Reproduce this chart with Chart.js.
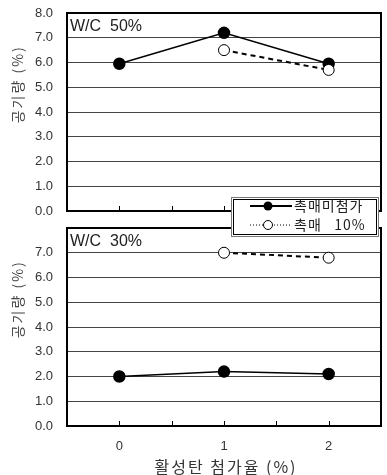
<!DOCTYPE html>
<html>
<head>
<meta charset="utf-8">
<script src="https://cdn.jsdelivr.net/npm/chart.js@4"></script>
<style>
  body { margin: 0; background: #fff; }
  #wrap { position: relative; width: 387px; height: 475px; }
  #topBox { position: absolute; left: 0; top: 0; width: 387px; height: 240px; z-index: 2; }
  #botBox { position: absolute; left: 0; top: 200px; width: 387px; height: 275px; z-index: 1; }
</style>
</head>
<body>
<div id="wrap">
  <div id="botBox"><canvas id="botChart"></canvas></div>
  <div id="topBox"><canvas id="topChart"></canvas></div>
</div>
<script>
// 활성탄 첨가율 (%)
const xValues = [0, 1, 2];
const xTickValues = [0, 0.5, 1, 1.5, 2];
const seriesNames = ['촉매미첨가', '촉매   10%'];
const panelLabels = ['W/C  50%', 'W/C  30%'];
const yTitle = '공기량 (%)';
const xTitle = '활성탄 첨가율 (%)';

// W/C 50%
const topNoCat = [5.95, 7.2, 5.95];
const topCat10 = [null, 6.5, 5.7];
// W/C 30%
const botNoCat = [2.0, 2.2, 2.1];
const botCat10 = [null, 7.0, 6.8];

const KR = '"Noto Sans CJK KR", "Liberation Sans", sans-serif';
const LAT = '"Liberation Sans", Arial, sans-serif';

function toPoints(arr) {
  return xValues.map((x, i) => ({ x: x, y: arr[i] })).filter(p => p.y !== null);
}

function noScalePadding(s) {
  s.paddingTop = 0; s.paddingBottom = 0; s.paddingLeft = 0; s.paddingRight = 0;
}

// 테두리, 안쪽 눈금, 패널 라벨, y축 제목
const framePlugin = {
  id: 'frame',
  beforeDatasetsDraw(chart, args, opts) {
    const { ctx, chartArea: a, scales: { x } } = chart;
    ctx.save();
    ctx.strokeStyle = '#000';
    ctx.lineWidth = 1;
    xTickValues.forEach(v => {
      const px = Math.round(x.getPixelForValue(v)) + 0.5;
      ctx.beginPath();
      ctx.moveTo(px, a.bottom);
      ctx.lineTo(px, a.bottom - 5);
      ctx.stroke();
    });
    ctx.lineWidth = 2;
    ctx.strokeRect(a.left, a.top, a.width, a.height);

    ctx.fillStyle = '#222';
    ctx.font = '16px ' + LAT;
    ctx.textBaseline = 'middle';
    ctx.fillText(opts.label, a.left + 3, a.top + 14);

    ctx.translate(18, a.top + a.height * 0.36);
    ctx.rotate(-Math.PI / 2);
    ctx.textAlign = 'center';
    ctx.font = '14px ' + KR;
    ctx.fillStyle = '#444';
    ctx.letterSpacing = '2px';
    ctx.fillText(yTitle, 0, 0);
    ctx.restore();
  },
  afterDraw(chart, args, opts) {
    const { ctx, chartArea: a } = chart;
    ctx.save();
    if (opts.xTitle) {
      ctx.fillStyle = '#333';
      ctx.font = '16px ' + KR;
      ctx.textAlign = 'center';
      ctx.textBaseline = 'middle';
      ctx.letterSpacing = '2px';
      ctx.fillText(xTitle, (a.left + a.right) / 2 + 2, a.bottom + 41);
    }
    if (opts.legend) {
      // 범례 상자
      ctx.fillStyle = '#fff';
      ctx.fillRect(231, 197, 148, 40);
      ctx.strokeStyle = '#777';
      ctx.lineWidth = 1;
      ctx.strokeRect(231.5, 197.5, 147, 39);
      ctx.strokeStyle = '#000';
      ctx.strokeRect(233.5, 199.5, 143, 35);

      // 촉매미첨가
      ctx.lineWidth = 2;
      ctx.setLineDash([]);
      ctx.beginPath(); ctx.moveTo(250, 206); ctx.lineTo(292, 206); ctx.stroke();
      ctx.fillStyle = '#000';
      ctx.beginPath(); ctx.arc(268, 206, 4.5, 0, Math.PI * 2); ctx.fill();

      // 촉매 10%
      ctx.lineWidth = 1;
      ctx.setLineDash([1, 2]);
      ctx.beginPath(); ctx.moveTo(250, 225); ctx.lineTo(292, 225); ctx.stroke();
      ctx.setLineDash([]);
      ctx.fillStyle = '#fff';
      ctx.beginPath(); ctx.arc(268, 225, 4.5, 0, Math.PI * 2); ctx.fill(); ctx.stroke();

      ctx.fillStyle = '#222';
      ctx.font = '14px ' + KR;
      ctx.textBaseline = 'middle';
      ctx.letterSpacing = '1px';
      ctx.fillText(seriesNames[0], 294, 206);
      ctx.fillText(seriesNames[1], 294, 225);
    }
    ctx.restore();
  }
};

function makeChart(id, noCat, cat10, isTop) {
  return new Chart(document.getElementById(id), {
    type: 'line',
    data: {
      datasets: [
        {
          label: seriesNames[0],
          data: toPoints(noCat),
          borderColor: '#000',
          borderWidth: 1.5,
          pointRadius: 5.5,
          pointBackgroundColor: '#000',
          pointBorderColor: '#000',
          order: 2
        },
        {
          label: seriesNames[1],
          data: toPoints(cat10),
          borderColor: '#000',
          borderWidth: 2,
          borderDash: [5, 4],
          pointRadius: 5.5,
          pointBackgroundColor: '#fff',
          pointBorderColor: '#000',
          pointBorderWidth: 1,
          order: 1
        }
      ]
    },
    options: {
      responsive: true,
      maintainAspectRatio: false,
      animation: false,
      devicePixelRatio: 1,
      layout: {
        autoPadding: false,
        padding: { left: 0, right: 6, top: isTop ? 13 : 28, bottom: isTop ? 29 : 0 }
      },
      plugins: {
        legend: { display: false },
        tooltip: { enabled: false },
        frame: { label: isTop ? panelLabels[0] : panelLabels[1], legend: isTop, xTitle: !isTop }
      },
      scales: {
        x: {
          type: 'linear',
          min: -0.5,
          max: 2.5,
          grid: { display: false, drawTicks: false },
          border: { display: false },
          ticks: {
            display: !isTop,
            stepSize: 0.5,
            autoSkip: false,
            maxRotation: 0,
            padding: 13,
            color: '#333',
            font: { family: LAT, size: 13 },
            callback: v => Number.isInteger(v) && v >= 0 ? String(v) : ''
          },
          afterFit: s => { s.height = isTop ? 0 : 49; noScalePadding(s); }
        },
        y: {
          min: 0,
          max: 8,
          grid: { color: '#444', lineWidth: 1, drawTicks: false },
          border: { display: false },
          ticks: {
            stepSize: 1,
            padding: 14,
            color: '#333',
            font: { family: LAT, size: 13 },
            callback: v => (!isTop && v === 8) ? '' : v.toFixed(1)
          },
          afterFit: s => { s.width = 67; noScalePadding(s); }
        }
      }
    },
    plugins: [framePlugin]
  });
}

makeChart('topChart', topNoCat, topCat10, true);
makeChart('botChart', botNoCat, botCat10, false);
</script>
</body>
</html>
